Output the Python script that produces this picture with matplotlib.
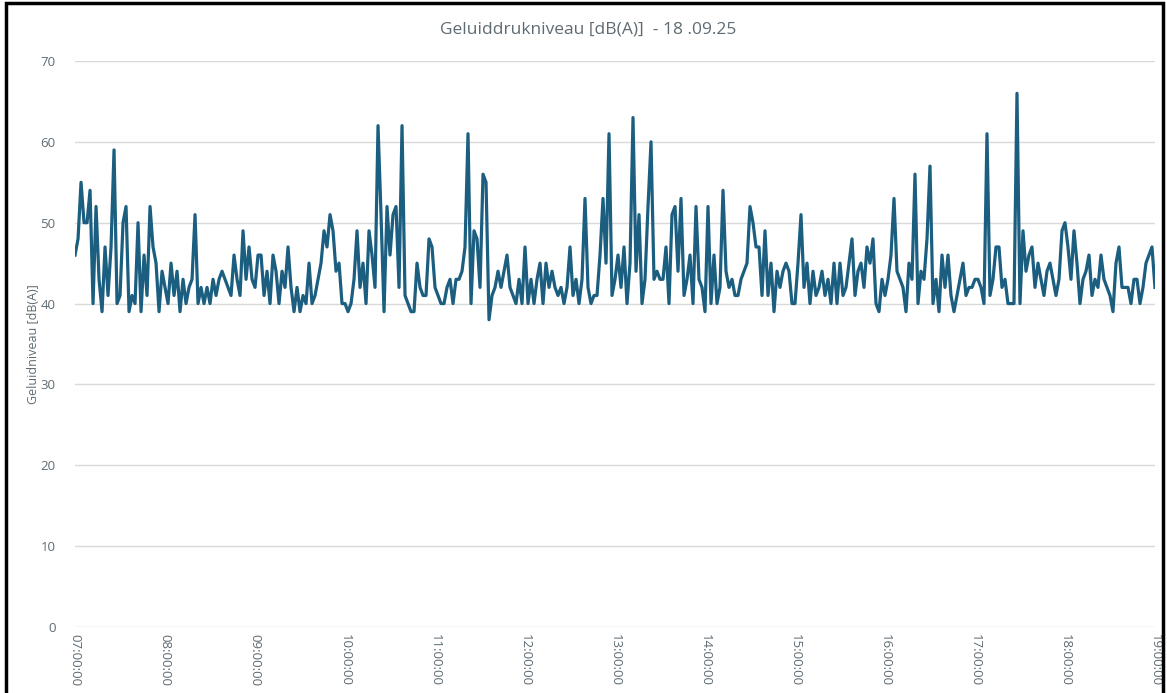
import pandas as pd
import matplotlib
matplotlib.use("Agg")
import matplotlib.pyplot as plt
import matplotlib.dates as mdates
from matplotlib.patches import Rectangle

title = "Geluiddrukniveau [dB(A)]  - 18 .09.25"
y_label = "Geluidniveau [dB(A)]"
start = "2025-09-18 07:00"
end = "2025-09-18 19:00"

h07 = [46, 48, 55, 50, 50, 54, 40, 52, 43, 39, 47, 41, 47, 59, 40,
       41, 50, 52, 39, 41, 40, 50, 39, 46, 41, 52, 47, 45, 39, 44]
h08 = [42, 40, 45, 41, 44, 39, 43, 40, 42, 43, 51, 40, 42, 40, 42,
       40, 43, 41, 43, 44, 43, 42, 41, 46, 43, 41, 49, 43, 47, 43]
h09 = [42, 46, 46, 41, 44, 40, 46, 44, 40, 44, 42, 47, 42, 39, 42,
       39, 41, 40, 45, 40, 41, 43, 45, 49, 47, 51, 49, 44, 45, 40]
h10 = [40, 39, 40, 43, 49, 42, 45, 40, 49, 46, 42, 62, 51, 39, 52,
       46, 51, 52, 42, 62, 41, 40, 39, 39, 45, 42, 41, 41, 48, 47]
h11 = [42, 41, 40, 40, 42, 43, 40, 43, 43, 44, 47, 61, 40, 49, 48,
       42, 56, 55, 38, 41, 42, 44, 42, 44, 46, 42, 41, 40, 43, 40]
h12 = [47, 40, 43, 40, 43, 45, 40, 45, 42, 44, 42, 41, 42, 40, 42,
       47, 41, 43, 40, 43, 53, 42, 40, 41, 41, 46, 53, 45, 61, 41]
h13 = [43, 46, 42, 47, 40, 45, 63, 44, 51, 40, 43, 52, 60, 43, 44,
       43, 43, 47, 40, 51, 52, 44, 53, 41, 43, 46, 40, 52, 43, 42]
h14 = [39, 52, 40, 46, 40, 42, 54, 44, 42, 43, 41, 41, 43, 44, 45,
       52, 50, 47, 47, 41, 49, 41, 45, 39, 44, 42, 44, 45, 44, 40]
h15 = [40, 45, 51, 42, 45, 40, 44, 41, 42, 44, 41, 43, 40, 45, 40,
       45, 41, 42, 45, 48, 41, 44, 45, 42, 47, 45, 48, 40, 39, 43]
h16 = [41, 43, 46, 53, 44, 43, 42, 39, 45, 43, 56, 40, 44, 43, 48,
       57, 40, 43, 39, 46, 42, 46, 41, 39, 41, 43, 45, 41, 42, 42]
h17 = [43, 43, 42, 40, 61, 41, 43, 47, 47, 42, 43, 40, 40, 40, 66,
       40, 49, 44, 46, 47, 42, 45, 43, 41, 44, 45, 43, 41, 43, 49]
h18 = [50, 47, 43, 49, 45, 40, 43, 44, 46, 41, 43, 42, 46, 43, 42,
       41, 39, 45, 47, 42, 42, 42, 40, 43, 43, 40, 42, 45, 46, 47, 42]

levels = h07 + h08 + h09 + h10 + h11 + h12 + h13 + h14 + h15 + h16 + h17 + h18
times = pd.date_range(start, periods=len(levels), freq="2min")

grey = "#5f6b73"
plt.rcParams["font.family"] = ["Open Sans", "DejaVu Sans"]

fig = plt.figure(figsize=(11.67, 6.93), dpi=100)
ax = fig.add_axes([0.0643, 0.0952, 0.9254, 0.8168])

ax.plot(times, levels, color="#1b5e80", linewidth=2.3, solid_joinstyle="round")

ax.set_ylim(0, 70)
ax.set_yticks(range(0, 71, 10))
ax.set_xlim(pd.Timestamp(start), pd.Timestamp(end))
ax.xaxis.set_major_locator(mdates.HourLocator())
ax.xaxis.set_major_formatter(mdates.DateFormatter("%H:%M:%S"))
ax.grid(axis="y", color="#d9d9d9", linewidth=1)
ax.set_axisbelow(True)
for s in ax.spines.values():
    s.set_visible(False)
ax.tick_params(axis="both", length=0, colors=grey, labelsize=9.5)
ax.tick_params(axis="x", pad=5)
ax.tick_params(axis="y", pad=14)
plt.setp(ax.get_xticklabels(), rotation=-90, ha="center", va="top")

ax.set_ylabel(y_label, color=grey, fontsize=9, labelpad=0)
fig.text(0.504, 0.957, title, color=grey, fontsize=12.5, ha="center", va="center")

# zwarte rand om de figuur
fig.patches.append(Rectangle((0.0055, -0.05), 0.9915, 1.045, transform=fig.transFigure,
                             fill=False, edgecolor="black", linewidth=2.5))

fig.savefig("out.png", dpi=100)
